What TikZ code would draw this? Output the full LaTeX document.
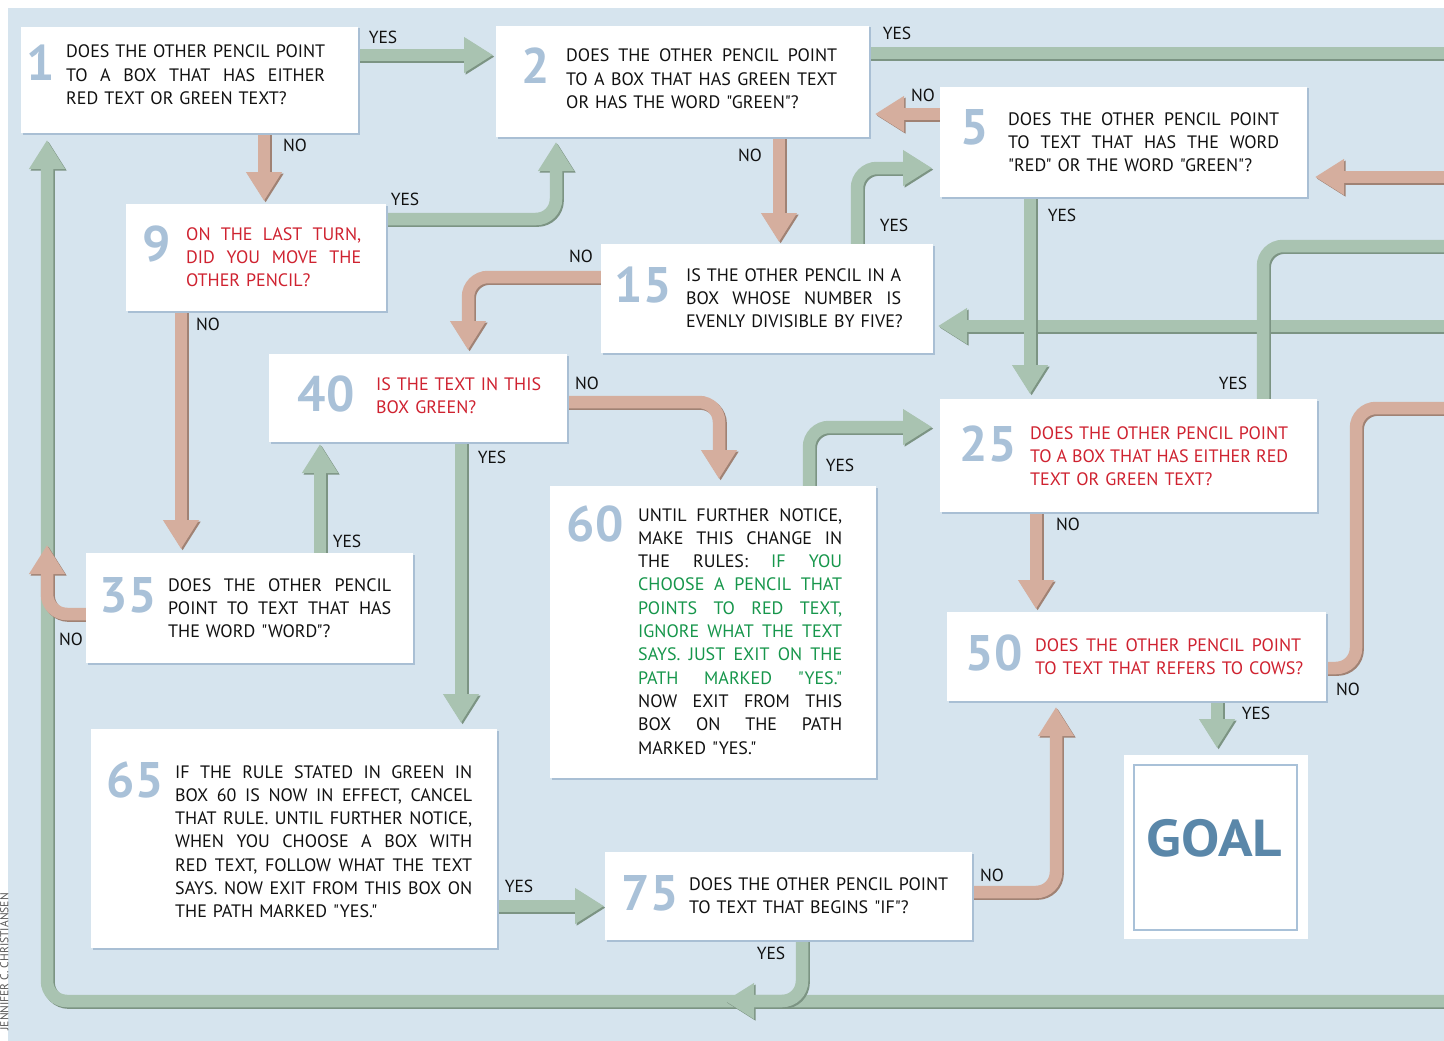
\documentclass[tikz,border=0pt]{standalone}
\usepackage{fontspec}
\setmainfont{PT Sans}[Ligatures=TeXOff]
\usetikzlibrary{arrows.meta,calc}

\definecolor{paper}{HTML}{D6E4EE}
\definecolor{boxedge}{HTML}{A9BFD4}
\definecolor{numblue}{HTML}{A9C1D8}
\definecolor{qred}{HTML}{CF2230}
\definecolor{qgreen}{HTML}{16964B}
\definecolor{yesfill}{HTML}{A9C3B1}
\definecolor{yesdark}{HTML}{7C9483}
\definecolor{nofill}{HTML}{D5AE9E}
\definecolor{nodark}{HTML}{A08274}
\definecolor{goalblue}{HTML}{5A87A9}
\definecolor{ink}{HTML}{111111}

\pgfdeclarelayer{bg}
\pgfdeclarelayer{flow}
\pgfsetlayers{bg,flow,main}

% a fully justified line of box text (interword spaces free to stretch)
\newcommand\jl[1]{\makebox[\hsize][s]{\spaceskip=0pt\xspaceskip=0pt\relax #1}}
% a wide band arrow with a darker edge on its lower right side
\newcommand\flow[3]{%
  \draw[#1shade,#2,transform canvas={shift={(1.6pt,-1.6pt)}}] #3;
  \draw[#1band,#2] #3;}

\tikzset{
  box/.style={fill=white, anchor=north west, inner sep=0pt, outer sep=0pt,
    preaction={fill=boxedge, transform canvas={shift={(1.5pt,-1.5pt)}}}},
  num/.style={font=\fontsize{50}{50}\selectfont\bfseries, text=numblue, inner sep=0pt},
  txt/.style={anchor=base west, inner sep=0pt, align=left, text=ink,
    font=\fontsize{18}{23.3}\selectfont},
  redtxt/.style={txt, text=qred},
  lbl/.style={font=\fontsize{17.5}{20}\selectfont, text=ink, inner sep=0pt},
  yesband/.style={draw=yesfill, line width=12.5pt, rounded corners=20pt},
  yesshade/.style={draw=yesdark, line width=12.5pt, rounded corners=20pt},
  noband/.style={draw=nofill, line width=12.5pt, rounded corners=20pt},
  noshade/.style={draw=nodark, line width=12.5pt, rounded corners=20pt},
  tipped/.style={-{Triangle[length=29pt,width=34pt]}},
}

\begin{document}
\begin{tikzpicture}[x=1pt,y=-1pt]
\useasboundingbox (0,0) rectangle (1444,1041);
\begin{pgfonlayer}{bg}
  \fill[white] (0,0) rectangle (1444,1041);
  \fill[paper] (8,8) rectangle (1444,1041);
\end{pgfonlayer}

% credit along the left margin
\node[rotate=90, anchor=base east, inner sep=0pt, text=black!65,
  font=\fontsize{11.5}{11.5}\selectfont] (credit) at (8.5,893) {JENNIFER C. CHRISTIANSEN};

% question boxes
\node[box, minimum width=337pt, minimum height=106pt] (b1) at (21,27) {};
\node[box, minimum width=373pt, minimum height=111pt] (b2) at (496,26) {};
\node[box, minimum width=367pt, minimum height=110pt] (b5) at (940,87) {};
\node[box, minimum width=260pt, minimum height=107pt] (b9) at (126,204) {};
\node[box, minimum width=332pt, minimum height=109pt] (b15) at (601,244) {};
\node[box, minimum width=298pt, minimum height=88pt] (b40) at (269,354) {};
\node[box, minimum width=377pt, minimum height=113pt] (b25) at (940,399) {};
\node[box, minimum width=326pt, minimum height=292pt] (b60) at (550,486) {};
\node[box, minimum width=327pt, minimum height=110pt] (b35) at (86,553) {};
\node[box, minimum width=379pt, minimum height=89pt] (b50) at (947,612) {};
\node[box, minimum width=406pt, minimum height=219pt] (b65) at (91,729) {};
\node[box, minimum width=367pt, minimum height=88pt] (b75) at (605,852) {};

% goal
\node[fill=white, anchor=north west, inner sep=0pt, outer sep=0pt,
  minimum width=184pt, minimum height=184pt] (goal) at (1124,755) {};
\node[draw=numblue, line width=2.5pt, inner sep=0pt,
  minimum width=163pt, minimum height=165pt] (goalframe) at (1215.5,847.5) {};
\node[font=\fontsize{52}{52}\selectfont\bfseries, text=goalblue, inner sep=0pt]
  (goaltext) at (1214.5,838) {\scalebox{1.1}[1]{GOAL}};

% box numbers
\node[num] (n1) at (41,63) {1};
\node[num] (n2) at (536,66) {2};
\node[num] (n5) at (975,127) {5};
\node[num] (n9) at (157,244) {9};
\node[num] (n15) at (643,285) {15};
\node[num] (n40) at (326,394) {40};
\node[num] (n25) at (988,444) {25};
\node[num] (n60) at (595,524) {60};
\node[num] (n35) at (128,595) {35};
\node[num] (n50) at (994,653) {50};
\node[num] (n65) at (135,780) {65};
\node[num] (n75) at (650,893) {75};

% box texts
\node[txt, text width=259pt] (t1) at (66,58)
  {\jl{DOES THE OTHER PENCIL POINT}\\\jl{TO A BOX THAT HAS EITHER}\\\mbox{RED TEXT OR GREEN TEXT?}};
\node[txt, text width=271pt] (t2) at (566,62)
  {\jl{DOES THE OTHER PENCIL POINT}\\\jl{TO A BOX THAT HAS GREEN TEXT}\\\mbox{OR HAS THE WORD "GREEN"?}};
\node[txt, text width=271pt] (t5) at (1008,125)
  {\jl{DOES THE OTHER PENCIL POINT}\\\jl{TO TEXT THAT HAS THE WORD}\\\mbox{"RED" OR THE WORD "GREEN"?}};
\node[redtxt, text width=175pt] (t9) at (186,240)
  {\jl{ON THE LAST TURN,}\\\jl{DID YOU MOVE THE}\\\mbox{OTHER PENCIL?}};
\node[txt, text width=215pt] (t15) at (686,281)
  {\jl{IS THE OTHER PENCIL IN A}\\\jl{BOX WHOSE NUMBER IS}\\\mbox{EVENLY DIVISIBLE BY FIVE?}};
\node[redtxt, text width=170pt] (t40) at (376,390)
  {\mbox{IS THE TEXT IN THIS}\\\mbox{BOX GREEN?}};
\node[redtxt, text width=258pt] (t25) at (1030,439)
  {\jl{DOES THE OTHER PENCIL POINT}\\\jl{TO A BOX THAT HAS EITHER RED}\\\mbox{TEXT OR GREEN TEXT?}};
\node[txt, text width=204pt] (t60) at (638,521)
  {\jl{UNTIL FURTHER NOTICE,}\\
   \jl{MAKE THIS CHANGE IN}\\
   \jl{THE RULES: \textcolor{qgreen}{IF YOU}}\\
   \jl{\color{qgreen}CHOOSE A PENCIL THAT}\\
   \jl{\color{qgreen}POINTS TO RED TEXT,}\\
   \jl{\color{qgreen}IGNORE WHAT THE TEXT}\\
   \jl{\color{qgreen}SAYS. JUST EXIT ON THE}\\
   \jl{\color{qgreen}PATH MARKED "YES."}\\
   \jl{NOW EXIT FROM THIS}\\
   \jl{BOX ON THE PATH}\\
   \mbox{MARKED "YES."}};
\node[txt, text width=223pt] (t35) at (168,591)
  {\jl{DOES THE OTHER PENCIL}\\\jl{POINT TO TEXT THAT HAS}\\\mbox{THE WORD "WORD"?}};
\node[redtxt, text width=266pt] (t50) at (1035,651)
  {\jl{DOES THE OTHER PENCIL POINT}\\\mbox{TO TEXT THAT REFERS TO COWS?}};
\node[txt, text width=297pt] (t65) at (175,778)
  {\jl{IF THE RULE STATED IN GREEN IN}\\
   \jl{BOX 60 IS NOW IN EFFECT, CANCEL}\\
   \jl{THAT RULE. UNTIL FURTHER NOTICE,}\\
   \jl{WHEN YOU CHOOSE A BOX WITH}\\
   \jl{RED TEXT, FOLLOW WHAT THE TEXT}\\
   \jl{SAYS. NOW EXIT FROM THIS BOX ON}\\
   \mbox{THE PATH MARKED "YES."}};
\node[txt, text width=260pt] (t75) at (689,890)
  {\mbox{DOES THE OTHER PENCIL POINT}\\\mbox{TO TEXT THAT BEGINS "IF"?}};

% connectors
\coordinate (loopin) at (1450,1001);
\coordinate (loopjoin) at (725,1001);
\coordinate (r8tip) at (47,545);
\coordinate (g3out) at (1450,53);
\coordinate (g6in) at (1450,326);
\coordinate (g7out) at (1450,246);
\coordinate (r4in) at (1450,177);
\coordinate (r10out) at (1450,408);

\begin{pgfonlayer}{flow}
  % long return path along the bottom and up the left side
  \flow{yes}{tipped}{(loopin) -| ($(b1.south west)+(26,7)$)}
  \flow{no}{tipped}{($(b35.north west)+(0,61)$) -| (r8tip)}
  \flow{yes}{tipped}{($(b75.south west)+(197,0)$) |- (loopjoin)}
  % YES paths
  \flow{yes}{tipped}{($(b1.north east)+(0,28)$) -- ($(b2.north west)+(-3,29)$)}
  \flow{yes}{tipped}{($(b9.north east)+(0,15)$) -| ($(b2.south west)+(60,5)$)}
  \flow{yes}{-}{($(b2.north east)+(0,27)$) -- (g3out)}
  \flow{yes}{tipped}{($(b15.north west)+(256,0)$) |- ($(b5.north west)+(-8,81)$)}
  \flow{yes}{tipped}{(g6in) -- ($(b15.north east)+(5,82)$)}
  \flow{yes}{tipped}{($(b5.south west)+(90,0)$) -- ($(b25.north west)+(90,-5)$)}
  \flow{yes}{-}{($(b25.north west)+(323,0)$) |- (g7out)}
  \flow{yes}{tipped}{($(b60.north west)+(259,0)$) |- ($(b25.north west)+(-8,28)$)}
  \flow{yes}{tipped}{($(b35.north west)+(234,0)$) -- ($(b40.south west)+(51,2)$)}
  \flow{yes}{tipped}{($(b40.south west)+(192,0)$) -- ($(b65.north west)+(370,-6)$)}
  \flow{yes}{tipped}{($(b65.north east)+(0,177)$) -- ($(b75.north west)+(-1,54)$)}
  \flow{yes}{tipped}{($(b50.south west)+(270,0)$) -- ($(goal.north west)+(93,-7)$)}
  % NO paths
  \flow{no}{tipped}{($(b1.south west)+(243,0)$) -- ($(b9.north west)+(138,-3)$)}
  \flow{no}{tipped}{($(b2.south west)+(283,0)$) -- ($(b15.north west)+(178,-2)$)}
  \flow{no}{tipped}{($(b5.north west)+(0,27)$) -- ($(b2.north east)+(6,88)$)}
  \flow{no}{tipped}{(r4in) -- ($(b5.north east)+(8,90)$)}
  \flow{no}{tipped}{($(b15.north west)+(0,33)$) -| ($(b40.north west)+(199,-4)$)}
  \flow{no}{tipped}{($(b40.north east)+(0,48)$) -| ($(b60.north west)+(169,-7)$)}
  \flow{no}{tipped}{($(b9.south west)+(55,0)$) -- ($(b35.north west)+(95,-4)$)}
  \flow{no}{tipped}{($(b25.south west)+(96,0)$) -- ($(b50.north west)+(89,-3)$)}
  \flow{no}{-}{($(b50.north east)+(0,56)$) -| ([xshift=-94pt]r10out) -- (r10out)}
  \flow{no}{tipped}{($(b75.north east)+(0,40)$) -| ($(b50.south west)+(109,6)$)}
\end{pgfonlayer}

% path labels
\node[lbl] (l1) at (383,37) {YES};
\node[lbl] (l2) at (295,145) {NO};
\node[lbl] (l3) at (405,199) {YES};
\node[lbl] (l4) at (208,324) {NO};
\node[lbl] (l5) at (897,33) {YES};
\node[lbl] (l6) at (923,95) {NO};
\node[lbl] (l7) at (750,155) {NO};
\node[lbl] (l8) at (894,225) {YES};
\node[lbl] (l9) at (581,256) {NO};
\node[lbl] (l10) at (1062,215) {YES};
\node[lbl] (l11) at (1233,383) {YES};
\node[lbl] (l12) at (587,383) {NO};
\node[lbl] (l13) at (492,457) {YES};
\node[lbl] (l14) at (840,465) {YES};
\node[lbl] (l15) at (347,541) {YES};
\node[lbl] (l16) at (1068,524) {NO};
\node[lbl] (l17) at (71,639) {NO};
\node[lbl] (l18) at (1256,713) {YES};
\node[lbl] (l19) at (1348,689) {NO};
\node[lbl] (l20) at (519,886) {YES};
\node[lbl] (l21) at (992,875) {NO};
\node[lbl] (l22) at (771,953) {YES};
\end{tikzpicture}
\end{document}
